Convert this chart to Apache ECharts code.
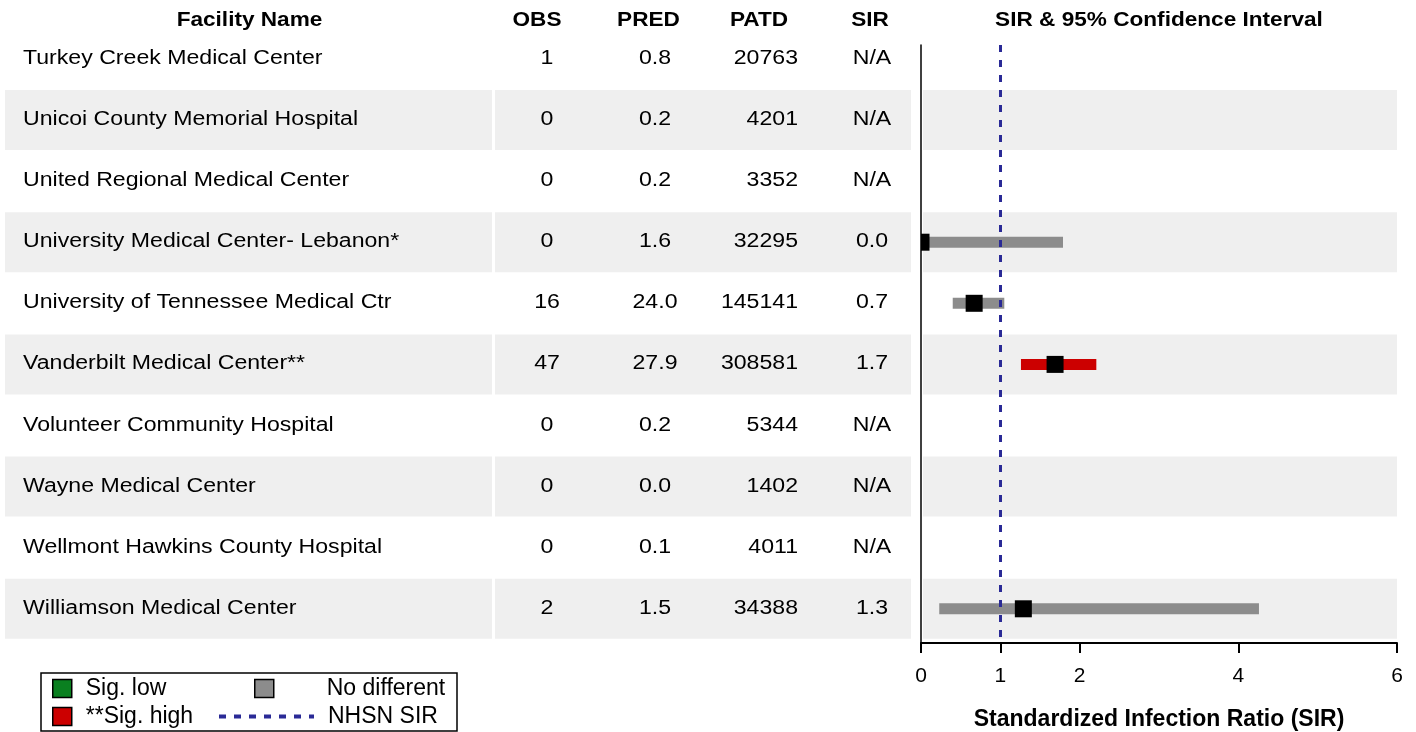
<!DOCTYPE html>
<html><head><meta charset="utf-8">
<script src="https://cdn.jsdelivr.net/npm/echarts@6/dist/echarts.min.js"></script>
<style>html,body{margin:0;padding:0;background:#fff}#c{width:1416px;height:732px}</style>
</head><body><div id="c"></div>
<script>
// ---------------- data ----------------
const facilities = [
  'Turkey Creek Medical Center',
  'Unicoi County Memorial Hospital',
  'United Regional Medical Center',
  'University Medical Center- Lebanon*',
  'University of Tennessee Medical Ctr',
  'Vanderbilt Medical Center**',
  'Volunteer Community Hospital',
  'Wayne Medical Center',
  'Wellmont Hawkins County Hospital',
  'Williamson Medical Center'
];
const obs = [1, 0, 0, 0, 16, 47, 0, 0, 0, 2];
const pred = [0.8, 0.2, 0.2, 1.6, 24.0, 27.9, 0.2, 0.0, 0.1, 1.5];
const patd = [20763, 4201, 3352, 32295, 145141, 308581, 5344, 1402, 4011, 34388];
const sir = [null, null, null, 0.0, 0.67, 1.69, null, null, null, 1.29];
const ciLow = [null, null, null, 0.0, 0.40, 1.26, null, null, null, 0.23];
const ciHigh = [null, null, null, 1.79, 1.05, 2.21, null, null, null, 4.26];
const sigClass = ['', '', '', 'none', 'none', 'high', '', '', '', 'none'];
const headers = ['Facility Name', 'OBS', 'PRED', 'PATD', 'SIR'];
const plotTitle = 'SIR & 95% Confidence Interval';
const axisTitle = 'Standardized Infection Ratio (SIR)';
const xTicks = [0, 1, 2, 4, 6];
const nhsnSIR = 1;
const legendNames = ['Sig. low', 'No different', '**Sig. high', 'NHSN SIR'];

// ---------------- layout / style ----------------
const FONT = '"Liberation Sans", Arial, sans-serif';
const SX_HEAD = 1.13, SX_BODY = 1.155;
const ROW0 = 58.9, PITCH = 61.1;
const N = facilities.length;
const PLOT_TOP = 45, PLOT_BOTTOM = 643, PLOT_LEFT = 921, PLOT_RIGHT = 1397;
const colX = { name: 23, obs: 547, pred: 655, patd: 798, sir: 872 };
const headX = [249.5, 537, 648.5, 759, 870];
const TABLE_W = 912;
const BAND = '#efefef';
const GRAY = '#8c8c8c', RED = '#cc0000', GREEN = '#0a8020', NAVY = '#2a2a96';

const yMinPlot = (PLOT_TOP - ROW0) / PITCH;
const yMaxPlot = (PLOT_BOTTOM - ROW0) / PITCH;

function txt(x, y, text, align, bold) {
  return {
    type: 'text', x: x, y: y, scaleX: bold ? SX_HEAD : SX_BODY,
    style: {
      text: text, fill: '#000', fontSize: 20, fontFamily: FONT,
      fontWeight: bold ? 'bold' : 'normal',
      align: align, verticalAlign: 'middle',
      textAlign: align, textVerticalAlign: 'middle'
    }
  };
}

const rows = facilities.map((_, i) => [0, i]);
const oddRows = rows.filter(r => r[1] % 2 === 1);

function ciData(cls) {
  const out = [];
  for (let i = 0; i < N; i++) {
    if (sigClass[i] === cls && ciLow[i] != null) out.push([ciLow[i], ciHigh[i], i]);
  }
  return out;
}
function ciRender(params, api) {
  const p1 = api.coord([api.value(0), api.value(2)]);
  const p2 = api.coord([api.value(1), api.value(2)]);
  const h = 11;
  const cs = params.coordSys;
  const rect = echarts.graphic.clipRectByRect(
    { x: p1[0], y: p1[1] - h / 2, width: p2[0] - p1[0], height: h },
    { x: cs.x, y: cs.y, width: cs.width, height: cs.height });
  return rect && { type: 'rect', shape: rect, style: { fill: api.visual('color') } };
}

const sirPoints = [];
for (let i = 0; i < N; i++) if (sir[i] != null) sirPoints.push([sir[i], i]);

const legendText = { fontSize: 23, fontFamily: FONT, color: '#000' };
function squareLegend(name, left, top, pad) {
  return {
    data: [{ name: name, icon: 'rect' }], left: left, top: top, padding: 0,
    itemWidth: 19, itemHeight: 18, selectedMode: false,
    itemStyle: { borderColor: '#000', borderWidth: 1.5 },
    textStyle: Object.assign({ padding: [0, 0, 0, pad] }, legendText)
  };
}

const chart = echarts.init(document.getElementById('c'), null, { renderer: 'canvas' });
chart.setOption({
  animation: false,
  backgroundColor: '#fff',
  grid: [
    { left: 0, width: TABLE_W, top: ROW0 - PITCH / 2, height: N * PITCH, outerBoundsMode: 'none', containLabel: false },
    { left: PLOT_LEFT, right: 1416 - PLOT_RIGHT, top: PLOT_TOP, bottom: 732 - PLOT_BOTTOM, outerBoundsMode: 'none', containLabel: false }
  ],
  xAxis: [
    { gridIndex: 0, type: 'value', min: 0, max: TABLE_W, show: false },
    {
      gridIndex: 1, type: 'value', min: 0, max: 6,
      axisLine: { show: true, onZero: false, lineStyle: { color: '#000', width: 2 } },
      axisTick: { show: true, customValues: xTicks, length: 10, lineStyle: { color: '#000', width: 2 } },
      axisLabel: { customValues: xTicks, margin: 23, color: '#000', fontSize: 21, fontFamily: FONT },
      splitLine: { show: false },
      name: axisTitle, nameLocation: 'middle', nameGap: 65,
      nameTextStyle: { color: '#000', fontSize: 23, fontWeight: 'bold', fontFamily: FONT }
    }
  ],
  yAxis: [
    { gridIndex: 0, type: 'value', min: -0.5, max: N - 0.5, inverse: true, show: false },
    {
      gridIndex: 1, type: 'value', min: yMinPlot, max: yMaxPlot, inverse: true,
      axisLine: { show: true, onZero: false, lineStyle: { color: '#000', width: 1.5 } },
      axisTick: { show: false }, axisLabel: { show: false }, splitLine: { show: false }
    }
  ],
  legend: [
    squareLegend(legendNames[0], 52, 677, 9),
    squareLegend(legendNames[1], 254, 677, 48),
    squareLegend(legendNames[2], 52, 705, 9),
    {
      data: [{ name: legendNames[3] }],
      left: 217, top: 705, padding: 0, itemWidth: 95, itemHeight: 18, selectedMode: false,
      itemStyle: { opacity: 0, color: 'rgba(0,0,0,0)', borderWidth: 0 },
      lineStyle: { width: 4 },
      textStyle: Object.assign({ padding: [0, 0, 0, 9] }, legendText)
    }
  ],
  graphic: {
    elements: headers.map((h, k) => txt(headX[k], 20.5, h, 'center', true))
      .concat([
        txt((PLOT_LEFT + PLOT_RIGHT) / 2, 20.5, plotTitle, 'center', true),
        { type: 'rect', z: -1, shape: { x: 41, y: 673, width: 416, height: 58 },
          style: { fill: '#fff', stroke: '#000', lineWidth: 1.5 } }
      ])
  },
  series: [
    {
      name: 'tableBands', type: 'custom', xAxisIndex: 0, yAxisIndex: 0, silent: true, z: 1,
      data: oddRows, encode: { x: 0, y: 1 },
      renderItem: function (params, api) {
        const i = api.value(1);
        const a = api.coord([5, i - 0.491]), b = api.coord([492, i + 0.491]);
        const c = api.coord([495, i - 0.491]), d = api.coord([911, i + 0.491]);
        return { type: 'group', children: [
          { type: 'rect', shape: { x: a[0], y: a[1], width: b[0] - a[0], height: b[1] - a[1] }, style: { fill: BAND } },
          { type: 'rect', shape: { x: c[0], y: c[1], width: d[0] - c[0], height: d[1] - c[1] }, style: { fill: BAND } }
        ]};
      }
    },
    {
      name: 'tableText', type: 'custom', xAxisIndex: 0, yAxisIndex: 0, silent: true, z: 2,
      data: rows, encode: { x: 0, y: 1 },
      renderItem: function (params, api) {
        const i = api.value(1);
        const X = v => api.coord([v, i])[0];
        const y = api.coord([0, i])[1] - 0.5;
        return { type: 'group', children: [
          txt(X(colX.name), y, facilities[i], 'left'),
          txt(X(colX.obs), y, String(obs[i]), 'center'),
          txt(X(colX.pred), y, pred[i].toFixed(1), 'center'),
          txt(X(colX.patd), y, String(patd[i]), 'right'),
          txt(X(colX.sir), y, sir[i] == null ? 'N/A' : sir[i].toFixed(1), 'center')
        ]};
      }
    },
    {
      name: 'plotBands', type: 'custom', xAxisIndex: 1, yAxisIndex: 1, silent: true, z: 1,
      data: oddRows.map(r => [0, r[1]]), encode: { x: 0, y: 1 },
      renderItem: function (params, api) {
        const i = api.value(1);
        const a = api.coord([0, i - 0.491]), b = api.coord([0, i + 0.491]);
        const cs = params.coordSys;
        return { type: 'rect', shape: { x: cs.x + 2, y: a[1], width: cs.width - 2, height: b[1] - a[1] }, style: { fill: BAND } };
      }
    },
    {
      name: legendNames[1], type: 'custom', xAxisIndex: 1, yAxisIndex: 1, z: 3,
      itemStyle: { color: GRAY }, data: ciData('none'), encode: { x: [0, 1], y: 2 },
      renderItem: ciRender
    },
    {
      name: legendNames[2], type: 'custom', xAxisIndex: 1, yAxisIndex: 1, z: 3,
      itemStyle: { color: RED }, data: ciData('high'), encode: { x: [0, 1], y: 2 },
      renderItem: ciRender
    },
    {
      name: legendNames[0], type: 'custom', xAxisIndex: 1, yAxisIndex: 1, z: 3,
      itemStyle: { color: GREEN }, data: ciData('low'), encode: { x: [0, 1], y: 2 },
      renderItem: ciRender
    },
    {
      name: 'SIR', type: 'custom', xAxisIndex: 1, yAxisIndex: 1, z: 4,
      data: sirPoints, encode: { x: 0, y: 1 },
      renderItem: function (params, api) {
        const p = api.coord([api.value(0), api.value(1)]);
        const s = 17;
        const cs = params.coordSys;
        const rect = echarts.graphic.clipRectByRect(
          { x: p[0] - s / 2, y: p[1] - s / 2, width: s, height: s },
          { x: cs.x, y: cs.y, width: cs.width, height: cs.height });
        return rect && { type: 'rect', shape: rect, style: { fill: '#000' } };
      }
    },
    {
      name: legendNames[3], type: 'line', xAxisIndex: 1, yAxisIndex: 1, z: 5,
      symbol: 'none', data: [],
      lineStyle: { color: NAVY, width: 3, type: [7, 8] },
      itemStyle: { color: NAVY },
      markLine: {
        silent: true, symbol: ['none', 'none'], label: { show: false },
        lineStyle: { color: NAVY, width: 3, type: [7, 8] },
        data: [{ xAxis: nhsnSIR }]
      }
    }
  ]
});
</script>
</body></html>
